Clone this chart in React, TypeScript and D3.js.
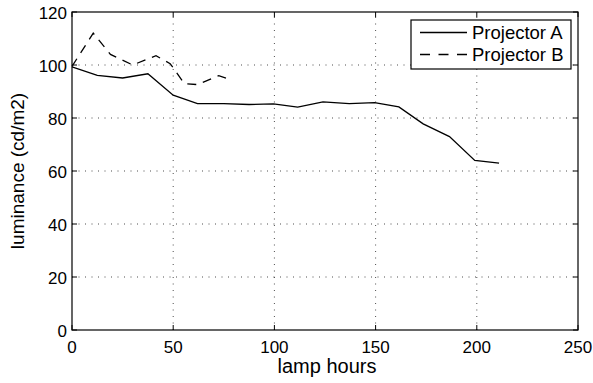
import React from "react";
import * as d3 from "d3";

const hoursA = [0, 12.5, 25, 37.5, 50, 62, 75, 87.5, 99.5, 111.5, 124, 137, 149.5, 161.5, 173.5, 186.5, 199, 211];
const lumA = [99.3, 96.1, 95.1, 96.7, 88.6, 85.4, 85.4, 85.1, 85.3, 84.1, 86.1, 85.4, 85.8, 84.2, 77.8, 73, 64, 63];
const hoursB = [0, 10.5, 19, 30, 41.5, 48.5, 55.5, 62, 72.5, 79];
const lumB = [99.5, 112, 104, 100, 103.5, 100.5, 93, 92.6, 96, 94.2];
const xTicks = [0, 50, 100, 150, 200, 250];
const yTicks = [0, 20, 40, 60, 80, 100, 120];
const seriesNames = ["Projector A", "Projector B"];

export default function App() {
  const W = 593, H = 383;
  const m = { l: 72, r: 15, t: 12, b: 53 };
  const x = d3.scaleLinear().domain([0, 250]).range([m.l, W - m.r]);
  const y = d3.scaleLinear().domain([0, 120]).range([H - m.b, m.t]);
  const line = d3.line<[number, number]>().x(d => x(d[0])).y(d => y(d[1]));
  const dataA: [number, number][] = hoursA.map((h, i) => [h, lumA[i]]);
  const dataB: [number, number][] = hoursB.map((h, i) => [h, lumB[i]]);
  const font = "'Liberation Sans', Arial, Helvetica, sans-serif";
  const x0 = x(0), x1 = x(250), y0 = y(0), y1 = y(120);
  const tk = 5;
  return (
    <svg width={W} height={H} style={{ position: "absolute", left: 0, top: 0, background: "#fff" }} fontFamily={font}>
      <rect x={0} y={0} width={W} height={H} fill="#fff" />
      {/* grid */}
      {xTicks.slice(1, -1).map(t => (
        <line key={"gx" + t} x1={x(t)} x2={x(t)} y1={y0} y2={y1} stroke="#000" strokeWidth={0.7} strokeDasharray="1,5.5" />
      ))}
      {yTicks.slice(1, -1).map(t => (
        <line key={"gy" + t} x1={x0} x2={x1} y1={y(t)} y2={y(t)} stroke="#000" strokeWidth={0.7} strokeDasharray="1,5.5" />
      ))}
      {/* ticks */}
      {xTicks.map(t => (
        <g key={"tx" + t}>
          <line x1={x(t)} x2={x(t)} y1={y0} y2={y0 - tk} stroke="#000" />
          <line x1={x(t)} x2={x(t)} y1={y1} y2={y1 + tk} stroke="#000" />
          <text x={x(t)} y={y0 + 23} fontSize={17} textAnchor="middle">{t}</text>
        </g>
      ))}
      {yTicks.map(t => (
        <g key={"ty" + t}>
          <line x1={x0} x2={x0 + tk} y1={y(t)} y2={y(t)} stroke="#000" />
          <line x1={x1} x2={x1 - tk} y1={y(t)} y2={y(t)} stroke="#000" />
          <text x={x0 - 5} y={y(t) + 6.5} fontSize={17} textAnchor="end">{t}</text>
        </g>
      ))}
      <rect x={x0} y={y1} width={x1 - x0} height={y0 - y1} fill="none" stroke="#000" strokeWidth={1.2} />
      {/* series */}
      <path d={line(dataA) || ""} fill="none" stroke="#000" strokeWidth={1.3} />
      <path d={line(dataB) || ""} fill="none" stroke="#000" strokeWidth={1.3} strokeDasharray="9,7" />
      {/* legend */}
      <rect x={411} y={20} width={160} height={49} fill="#fff" stroke="#000" strokeWidth={1.2} />
      <line x1={420} x2={467} y1={32.5} y2={32.5} stroke="#000" strokeWidth={1.3} />
      <line x1={420} x2={467} y1={54.5} y2={54.5} stroke="#000" strokeWidth={1.3} strokeDasharray="10,8.5" />
      <text x={472} y={39} fontSize={18.5}>{seriesNames[0]}</text>
      <text x={472} y={61} fontSize={18.5}>{seriesNames[1]}</text>
      {/* axis labels */}
      <text x={(x0 + x1) / 2 + 2} y={373} fontSize={20} textAnchor="middle">lamp hours</text>
      <text transform={`translate(24, ${(y0 + y1) / 2}) rotate(-90)`} fontSize={19} textAnchor="middle">luminance (cd/m2)</text>
    </svg>
  );
}
